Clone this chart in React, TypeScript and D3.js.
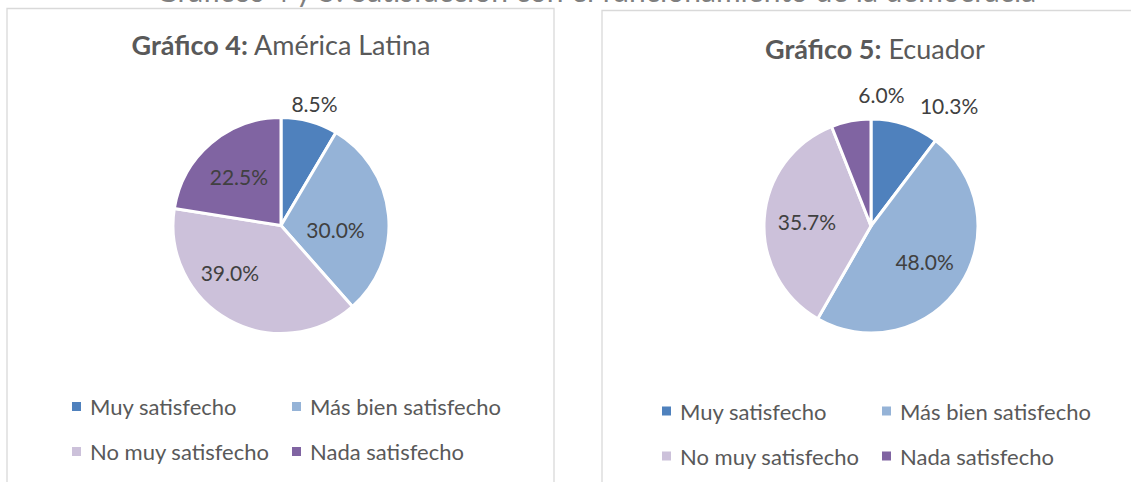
import React from "react";
import * as d3 from "d3";

const categories = ["Muy satisfecho", "Más bien satisfecho", "No muy satisfecho", "Nada satisfecho"];
const latamValues = [8.5, 30.0, 39.0, 22.5];
const ecuadorValues = [10.3, 48.0, 35.7, 6.0];
const colors = ["#4F81BD", "#95B3D7", "#CCC1DA", "#8064A2"];

const FONT = "Lato, 'Open Sans', sans-serif";

type PanelProps = {
  x0: number;
  y0: number;
  x1: number;
  cx: number;
  cy: number;
  r: number;
  titleBold: string;
  titleRest: string;
  titleX: number;
  titleY: number;
  values: number[];
  nudges: [number, number][];
  legendX: number[];
  legendY: number[];
};

const Panel = (p: PanelProps) => {
  const pie = d3.pie<number>().sort(null).value((d) => d);
  const arcs = pie(p.values);
  const arc = d3.arc<d3.PieArcDatum<number>>().innerRadius(0).outerRadius(p.r);
  const inLabel = d3.arc<d3.PieArcDatum<number>>().innerRadius(p.r * 0.6).outerRadius(p.r * 0.6);
  const outLabel = d3.arc<d3.PieArcDatum<number>>().innerRadius(p.r + 19).outerRadius(p.r + 19);

  return (
    <g>
      <path
        d={`M${p.x0},482 V${p.y0} H${p.x1} V482`}
        fill="none"
        stroke="#D9D9D9"
        strokeWidth={1.3}
      />
      <text x={p.titleX} y={p.titleY} textAnchor="middle" fontSize={27} fill="#595959" fontFamily={FONT}>
        <tspan fontWeight="bold">{p.titleBold}</tspan>
        <tspan>{p.titleRest}</tspan>
      </text>
      <g transform={`translate(${p.cx},${p.cy})`}>
        {arcs.map((a, i) => (
          <path key={i} d={arc(a) || ""} fill={colors[i]} stroke="#fff" strokeWidth={3} strokeLinejoin="round" />
        ))}
        {arcs.map((a, i) => {
          const small = a.data < 15;
          const [lx, ly] = (small ? outLabel : inLabel).centroid(a);
          const [nx, ny] = p.nudges[i];
          return (
            <text
              key={i}
              x={lx + nx}
              y={ly + ny}
              textAnchor="middle"
              dominantBaseline="central"
              fontSize={21}
              fill="#404040"
              fontFamily={FONT}
            >
              {a.data.toFixed(1)}%
            </text>
          );
        })}
      </g>
      {categories.map((c, i) => {
        const lx = p.legendX[i % 2];
        const ly = p.legendY[Math.floor(i / 2)];
        return (
          <g key={c} transform={`translate(${lx},${ly})`}>
            <rect x={0} y={-4.5} width={9} height={9} fill={colors[i]} />
            <text x={18} y={0} dominantBaseline="central" fontSize={22} fill="#595959" fontFamily={FONT}>
              {c}
            </text>
          </g>
        );
      })}
    </g>
  );
};

export default function App() {
  return (
    <svg
      width={1131}
      height={482}
      style={{ position: "absolute", left: 0, top: 0, background: "#fff" }}
    >
      <text x={596} y={1.5} textAnchor="middle" fontSize={30} fill="#7f7f7f" fontFamily={FONT}>
        Gráficos 4 y 5: Satisfacción con el funcionamiento de la democracia
      </text>
      <Panel
        x0={7}
        y0={8.5}
        x1={554}
        cx={281}
        cy={225.5}
        r={108}
        titleBold="Gráfico 4:"
        titleRest=" América Latina"
        titleX={281}
        titleY={55}
        values={latamValues}
        nudges={[[0, 0], [-10, 10], [-20, -10], [0, 0]]}
        legendX={[72, 292]}
        legendY={[406.5, 451.5]}
      />
      <Panel
        x0={602}
        y0={10.5}
        x1={1140}
        cx={871}
        cy={226}
        r={107}
        titleBold="Gráfico 5:"
        titleRest=" Ecuador"
        titleX={875}
        titleY={59}
        values={ecuadorValues}
        nudges={[[38, -1], [0, 0], [0, 0], [34, -8]]}
        legendX={[662, 882]}
        legendY={[411, 456]}
      />
    </svg>
  );
}
